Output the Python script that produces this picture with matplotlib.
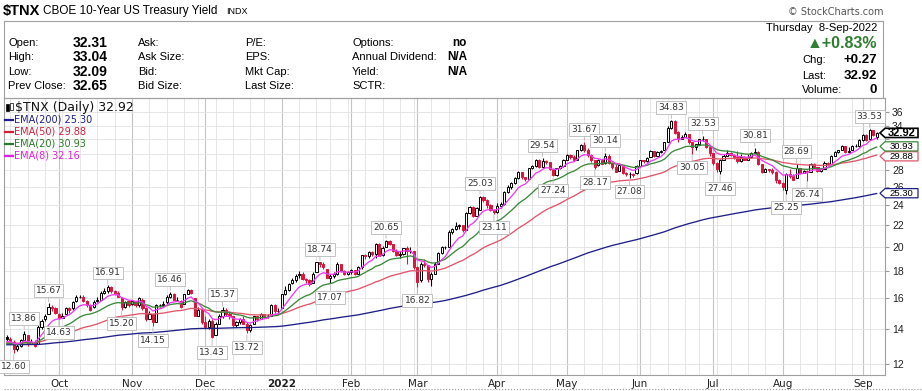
import numpy as np
import pandas as pd
import matplotlib
matplotlib.use("Agg")
import matplotlib.pyplot as plt
from matplotlib import transforms
from matplotlib.patches import Rectangle, Polygon
from matplotlib.lines import Line2D
from matplotlib.ticker import NullLocator

W, H = 922, 391

# ---- data ($TNX daily) ----
start_date, end_date = "2021-09-10", "2022-09-08"
holidays = ["2021-11-25", "2021-12-24", "2022-01-17", "2022-02-21", "2022-04-15",
            "2022-05-30", "2022-06-20", "2022-07-04", "2022-09-05"]

opens = [
    13.5, 13.4, 13.2, 12.8, 13.0, 13.3, 13.6, 13.1, 13.2, 13.1, 14.1, 14.6, 14.9, 15.4, 15.3,  # Sep
    14.9, 14.7, 14.9, 15.3, 15.3, 15.8, 16.1, 16.1, 15.8, 15.5, 15.4, 15.8, 15.9, 16.4, 16.5, 16.8, 16.5, 16.4, 16.0, 15.4, 15.8,  # Oct
    15.6, 15.8, 15.5, 15.9, 15.3, 14.6, 14.9, 14.4, 15.5, 15.5, 15.7, 16.1, 16.3, 15.9, 15.8, 15.6, 16.3, 16.6, 16.0, 14.8, 15.2,  # Nov
    14.4, 14.1, 14.5, 13.6, 14.3, 14.8, 15.2, 14.9, 14.8, 14.2, 14.4, 14.6, 14.3, 13.9, 14.3, 14.8, 14.6, 14.9, 14.8, 14.8, 15.5, 15.1,  # Dec
    15.3, 16.3, 16.6, 17.1, 17.3, 17.7, 17.8, 17.4, 17.3, 17.1, 17.9, 18.7, 18.6, 18.2, 17.5, 17.6, 17.8, 18.6, 18.0, 17.8,  # Jan
    17.9, 18.1, 17.8, 18.3, 19.3, 19.2, 19.6, 19.4, 20.3, 19.3, 20.0, 20.5, 20.3, 19.7, 19.3, 19.4, 19.9, 19.7, 19.7,  # Feb
    18.3, 17.3, 18.6, 18.5, 17.4, 17.8, 18.6, 19.5, 20.0, 20.0, 21.4, 21.6, 21.9, 22.0, 21.5, 23.2, 23.8, 22.9, 23.5, 24.9, 24.6, 24.0, 23.5,  # Mar
    23.3, 23.9, 24.1, 25.4, 26.0, 26.4, 27.0, 27.7, 27.1, 26.9, 28.2, 28.5, 29.3, 28.4, 29.1, 29.0, 28.1, 27.4, 28.2, 28.5,  # Apr
    29.3, 29.9, 29.6, 29.3, 30.5, 31.2, 30.5, 29.9, 29.2, 28.6, 29.3, 28.9, 29.8, 28.9, 28.4, 27.9, 28.6, 27.6, 27.5, 27.5, 27.6,  # May
    28.5, 29.2, 29.1, 29.6, 30.4, 29.8, 30.3, 30.5, 31.7, 33.7, 34.7, 33.0, 32.0, 32.4, 32.8, 31.6, 30.9, 31.3, 32.0, 32.0, 30.9,  # Jun
    30.1, 28.9, 27.9, 29.3, 29.8, 30.2, 29.9, 29.6, 29.1, 29.6, 29.3, 29.6, 30.2, 30.3, 28.7, 27.8, 28.1, 28.0, 27.8, 26.8,  # Jul
    26.5, 25.7, 27.5, 27.3, 27.0, 28.3, 27.6, 27.9, 27.8, 28.8, 28.4, 27.9, 28.1, 28.9, 28.8, 29.8, 30.3, 30.5, 31.1, 30.3, 30.5, 31.1, 31.1,  # Aug
    31.9, 32.6, 32.0, 33.4, 32.31,  # Sep
]
highs = [
    13.6, 13.5, 13.3, 13.1, 13.4, 13.86, 13.6, 13.4, 13.3, 14.2, 14.6, 14.9, 15.67, 15.5, 15.4,
    15.0, 15.0, 15.4, 15.4, 15.8, 16.2, 16.2, 16.2, 15.9, 15.6, 15.9, 16.1, 16.5, 16.7, 16.91, 16.9, 16.6, 16.5, 16.1, 15.8, 15.9,
    15.9, 15.8, 16.1, 16.0, 15.4, 15.1, 14.9, 15.6, 15.6, 15.8, 16.2, 16.46, 16.4, 16.1, 15.9, 16.3, 16.65, 16.65, 16.0, 15.4, 15.2,
    14.8, 14.6, 14.6, 14.4, 14.9, 15.37, 15.3, 15.1, 14.8, 14.5, 14.7, 14.8, 14.4, 14.3, 14.8, 14.8, 15.0, 14.9, 14.9, 15.6, 15.6, 15.3,
    16.3, 16.9, 17.1, 17.5, 17.8, 18.0, 17.9, 17.5, 17.4, 17.9, 18.7, 18.74, 18.7, 18.2, 17.8, 17.9, 18.7, 18.6, 18.1, 18.0,
    18.2, 18.1, 18.4, 19.3, 19.4, 19.7, 19.7, 20.4, 20.4, 20.1, 20.65, 20.6, 20.3, 19.8, 19.7, 19.9, 20.1, 20.0, 19.7,
    18.4, 18.7, 19.0, 18.5, 17.9, 18.7, 19.6, 20.1, 20.1, 21.5, 21.7, 22.3, 22.1, 22.0, 23.3, 23.9, 23.9, 23.8, 25.03, 25.0, 24.7, 24.1, 23.6,
    24.2, 24.3, 25.6, 26.2, 26.6, 27.2, 27.9, 27.8, 27.2, 28.3, 28.6, 29.4, 29.4, 29.54, 29.2, 29.0, 28.2, 28.3, 28.6, 29.4,
    30.0, 30.0, 29.9, 30.6, 31.3, 31.67, 30.8, 30.0, 29.3, 29.4, 29.3, 30.14, 30.0, 29.0, 28.7, 28.6, 28.6, 27.8, 27.7, 27.6, 28.6,
    29.3, 29.3, 29.6, 30.5, 30.4, 30.4, 30.5, 31.7, 33.9, 34.83, 34.8, 33.2, 32.6, 33.0, 32.8, 31.6, 31.4, 32.1, 32.53, 32.1, 30.9,
    30.1, 29.0, 29.4, 30.0, 30.5, 30.3, 30.0, 30.4, 30.0, 29.8, 30.0, 30.3, 30.81, 30.4, 28.8, 28.3, 28.1, 28.2, 27.9, 26.9,
    26.6, 27.6, 28.1, 27.5, 28.69, 28.3, 28.0, 28.0, 28.9, 28.9, 28.4, 28.3, 29.1, 29.0, 29.9, 30.4, 30.6, 31.2, 31.1, 30.9, 31.2, 31.3, 32.0,
    32.8, 32.8, 33.53, 33.4, 33.04,
]
lows = [
    13.2, 13.1, 12.6, 12.7, 12.9, 13.3, 13.0, 13.1, 12.9, 13.1, 14.0, 14.5, 14.9, 15.1, 14.9,
    14.63, 14.7, 14.9, 15.0, 15.2, 15.7, 16.0, 15.7, 15.4, 15.1, 15.3, 15.7, 15.9, 16.3, 16.4, 16.4, 16.2, 16.1, 15.2, 15.3, 15.4,
    15.5, 15.4, 15.4, 15.2, 14.5, 14.6, 14.15, 14.4, 15.4, 15.4, 15.6, 16.0, 15.8, 15.8, 15.3, 15.6, 16.3, 16.3, 14.8, 14.8, 14.3,
    14.0, 14.0, 13.43, 13.6, 14.3, 14.7, 14.8, 14.6, 14.1, 14.1, 14.3, 14.3, 13.72, 13.8, 14.3, 14.5, 14.6, 14.7, 14.7, 14.8, 15.0, 15.0,
    15.3, 16.2, 16.5, 17.0, 17.2, 17.5, 17.3, 17.1, 16.9, 17.1, 17.9, 18.3, 18.2, 17.5, 17.07, 17.5, 17.7, 17.9, 17.7, 17.7,
    17.8, 17.7, 17.8, 18.2, 19.0, 19.1, 19.2, 19.1, 19.2, 19.2, 20.0, 20.2, 19.6, 19.2, 19.1, 19.3, 18.6, 19.5, 18.2,
    16.82, 17.2, 18.3, 17.2, 16.9, 17.8, 18.6, 19.4, 19.8, 20.0, 21.2, 21.5, 21.6, 21.4, 21.5, 23.1, 22.8, 22.9, 23.5, 24.4, 23.7, 23.4, 23.11,
    23.2, 23.7, 24.0, 25.3, 25.8, 26.3, 26.9, 26.9, 26.7, 26.9, 28.1, 28.4, 28.2, 28.3, 28.8, 28.0, 27.24, 27.3, 28.1, 28.4,
    29.2, 29.4, 29.1, 29.2, 30.4, 30.3, 29.6, 29.0, 28.17, 28.5, 28.7, 28.8, 28.8, 28.1, 27.7, 27.9, 27.5, 27.3, 27.08, 27.2, 27.5,
    28.4, 28.9, 29.0, 29.6, 29.6, 29.7, 30.1, 30.5, 31.7, 33.5, 32.7, 31.6, 32.0, 32.3, 31.4, 30.05, 30.6, 31.3, 31.8, 30.8, 29.7,
    28.6, 27.8, 27.46, 29.2, 29.7, 29.7, 29.4, 28.9, 29.0, 29.2, 29.3, 29.5, 30.1, 28.6, 27.6, 27.7, 27.7, 27.5, 26.5, 26.3,
    25.7, 25.25, 27.0, 26.8, 27.0, 27.5, 27.6, 26.74, 27.7, 28.3, 27.7, 27.8, 28.1, 28.6, 28.8, 29.7, 30.2, 30.5, 30.2, 30.2, 30.5, 30.9, 31.0,
    31.8, 31.8, 32.0, 32.5, 32.09,
]
closes = [
    13.4, 13.2, 12.8, 13.0, 13.3, 13.7, 13.1, 13.2, 13.0, 14.1, 14.5, 14.8, 15.4, 15.3, 15.0,
    14.7, 14.8, 15.3, 15.2, 15.7, 16.1, 16.1, 15.8, 15.5, 15.2, 15.7, 15.9, 16.4, 16.5, 16.8, 16.5, 16.4, 16.1, 15.4, 15.7, 15.5,
    15.8, 15.5, 16.0, 15.3, 14.6, 14.9, 14.4, 15.5, 15.5, 15.6, 16.1, 16.3, 15.9, 15.9, 15.4, 16.3, 16.6, 16.4, 14.8, 15.2, 14.4,
    14.1, 14.5, 13.5, 14.3, 14.8, 15.2, 14.9, 14.8, 14.2, 14.4, 14.6, 14.3, 13.9, 14.2, 14.8, 14.6, 14.9, 14.8, 14.8, 15.5, 15.1, 15.1,
    16.3, 16.6, 17.0, 17.3, 17.6, 17.8, 17.4, 17.3, 17.0, 17.8, 18.7, 18.6, 18.3, 17.5, 17.6, 17.8, 18.6, 18.0, 17.8, 17.9,
    18.1, 17.8, 18.3, 19.3, 19.2, 19.6, 19.4, 20.3, 19.2, 19.9, 20.5, 20.3, 19.7, 19.3, 19.4, 19.9, 19.7, 19.7, 18.3,
    17.2, 18.6, 18.5, 17.4, 17.8, 18.6, 19.5, 20.0, 20.0, 21.4, 21.6, 21.9, 22.0, 21.5, 23.2, 23.8, 22.9, 23.7, 24.9, 24.6, 24.0, 23.5, 23.3,
    23.9, 24.1, 25.4, 26.0, 26.4, 27.0, 27.7, 27.1, 26.9, 28.2, 28.5, 29.3, 28.4, 29.1, 29.0, 28.1, 27.4, 28.2, 28.5, 29.3,
    29.9, 29.6, 29.3, 30.5, 31.2, 30.5, 29.9, 29.2, 28.4, 29.3, 28.8, 29.8, 28.9, 28.4, 27.8, 28.6, 27.6, 27.5, 27.5, 27.4, 28.5,
    29.2, 29.1, 29.5, 30.4, 29.8, 30.3, 30.4, 31.6, 33.7, 34.7, 32.9, 32.0, 32.4, 32.8, 31.6, 30.9, 31.3, 32.0, 32.0, 30.9, 30.1,
    28.9, 28.1, 29.3, 29.8, 30.2, 29.9, 29.6, 29.1, 29.6, 29.3, 29.6, 30.2, 30.3, 28.7, 27.8, 28.1, 28.0, 27.8, 26.8, 26.5,
    26.0, 27.5, 27.3, 26.8, 28.3, 27.6, 27.9, 27.8, 28.8, 28.4, 27.9, 28.1, 28.9, 28.8, 29.8, 30.3, 30.5, 31.1, 30.3, 30.4, 31.1, 31.1, 31.9,
    32.6, 31.9, 33.4, 32.65, 32.92,
]

# bars carrying StockCharts' high / low annotations
swing_high_idx = [5, 12, 29, 47, 62, 90, 109, 136, 154, 166, 172, 191, 200, 215, 227, 248]
swing_low_idx = [2, 15, 33, 42, 59, 69, 93, 118, 140, 157, 169, 179, 197, 205, 224, 230]

ema_periods = [200, 50, 20, 8]
ema_seeds = [13.05, 13.15, 13.1, 13.2]         # overlay levels at the left edge
ema_last = ["25.30", "29.88", "30.93", "32.16"]
ema_colors = ["#1f1f8a", "#e0566a", "#3b8a3b", "#ee3cee"]
ema_text_colors = ["#1f1f8a", "#d0203c", "#2a7a2a", "#e020e0"]

y_ticks = [12, 14, 16, 18, 20, 22, 24, 26, 28, 30, 32, 34, 36]
y_tick_labels = ["12", "14", "16", "18", "20", "22", "24", "26", "28", "", "", "34", "36"]  # 30/32 sit under the tags
month_names = {1: "2022", 2: "Feb", 3: "Mar", 4: "Apr", 5: "May", 6: "Jun", 7: "Jul",
               8: "Aug", 9: "Sep", 10: "Oct", 11: "Nov", 12: "Dec"}

quote_left = [("Open:", "32.31"), ("High:", "33.04"), ("Low:", "32.09"), ("Prev Close:", "32.65")]
quote_mid1 = ["Ask:", "Ask Size:", "Bid:", "Bid Size:"]
quote_mid2 = ["P/E:", "EPS:", "Mkt Cap:", "Last Size:"]
quote_right = [("Options:", "no"), ("Annual Dividend:", "N/A"), ("Yield:", "N/A"), ("SCTR:", "")]
last_close = "32.92"

RED = "#dc143c"
GRID = "#e2e2e2"
FRAME = "#a0a0a0"
HDR_FONT = "Liberation Sans"


def fx(px):
    return px / W


def fy(py):
    return 1 - py / H


dates = pd.bdate_range(start_date, end_date, freq="C", holidays=holidays)
n = len(dates)
assert n == len(opens) == len(highs) == len(lows) == len(closes)

fig = plt.figure(figsize=(W / 100, H / 100), dpi=100)
fig.patch.set_facecolor("white")

# ---- header ----
fig.text(fx(3), fy(11), "$TNX", fontsize=10.5, fontweight="bold", family=HDR_FONT, va="center")
fig.text(fx(43), fy(11), "CBOE 10-Year US Treasury Yield", fontsize=8.5, family=HDR_FONT, va="center")
fig.text(fx(226), fy(11.5), "INDX", fontsize=6.5, family=HDR_FONT, va="center")
fig.text(fx(883), fy(12), "\u00a9 StockCharts.com", fontsize=7, color="#555555", ha="right", va="center")
fig.add_artist(Rectangle((fx(4), fy(98)), fx(883) - fx(4), fy(21) - fy(98), transform=fig.transFigure,
                         fill=False, ec=FRAME, lw=0.8))

row_y = [43, 57, 72, 86]
for y, (lab, val), m1, m2, (lab2, val2) in zip(row_y, quote_left, quote_mid1, quote_mid2, quote_right):
    fig.text(fx(8), fy(y), lab, fontsize=8, family=HDR_FONT, va="center")
    fig.text(fx(73), fy(y), val, fontsize=10, fontweight="bold", family=HDR_FONT, va="center")
    fig.text(fx(138), fy(y), m1, fontsize=8, family=HDR_FONT, va="center")
    fig.text(fx(245), fy(y), m2, fontsize=8, family=HDR_FONT, va="center")
    fig.text(fx(352), fy(y), lab2, fontsize=8, family=HDR_FONT, va="center")
    fig.text(fx(467), fy(y), val2, fontsize=8.5, fontweight="bold", family=HDR_FONT, va="center", ha="right")

fig.text(fx(877), fy(28), "Thursday  8-Sep-2022", fontsize=8, family=HDR_FONT, va="center", ha="right")
fig.text(fx(877), fy(44), "\u25b2+0.83%", fontsize=11.5, fontweight="bold", color="#2f7f2f",
         family=[HDR_FONT, "DejaVu Sans"], va="center", ha="right")
for y, lab, val in [(60, "Chg:", "+0.27"), (76, "Last:", last_close), (90, "Volume:", "0")]:
    fig.text(fx(802), fy(y), lab, fontsize=8, family=HDR_FONT, va="center")
    fig.text(fx(877), fy(y), val, fontsize=9.5, fontweight="bold", family=HDR_FONT, va="center", ha="right")

# ---- price panel ----
ax = fig.add_axes([fx(4), fy(375), fx(885) - fx(4), fy(98) - fy(375)])
ax.set_yscale("log")
ax.set_ylim(11.44, 38.34)
ax.set_xlim(-0.8, 252.4)
for s in ax.spines.values():
    s.set_color(FRAME)
    s.set_linewidth(0.8)

x = np.arange(n)
month_start = [i for i in range(1, n) if dates[i].month != dates[i - 1].month]
week_start = [i for i in range(1, n) if dates[i].weekday() < dates[i - 1].weekday()
              and i not in month_start]
for i in week_start:
    ax.axvline(i, color=GRID, lw=0.6, zorder=0)
for i in month_start:
    ax.axvline(i, color="#c4c4c4", lw=0.8, zorder=0)

ax.yaxis.tick_right()
ax.set_yticks(y_ticks)
ax.set_yticklabels(y_tick_labels)
ax.yaxis.set_minor_locator(NullLocator())
ax.grid(axis="y", color=GRID, lw=0.6, zorder=0)
ax.tick_params(axis="y", labelsize=7.5, length=3, color="#999999", pad=2, labelcolor="#222222")
for t in ax.get_yticklabels():
    t.set_family(HDR_FONT)

ax.set_xticks(month_start)
ax.set_xticklabels([month_names[dates[i].month] for i in month_start])
ax.tick_params(axis="x", labelsize=7.5, length=0, pad=3, labelcolor="#222222")
for i, t in zip(month_start, ax.get_xticklabels()):
    if dates[i].month == 1:
        t.set_fontweight("bold")

# candles: hollow when close > open, red when close < previous close
o, h, l, c = (np.asarray(v, dtype=float) for v in (opens, highs, lows, closes))
prev = np.r_[c[0], c[:-1]]
edge = np.where(c >= prev, "black", RED)
face = np.where(c > o, "white", edge)
lo_b, hi_b = np.minimum(o, c), np.maximum(o, c)
ax.vlines(x, l, h, colors=edge, lw=0.8, zorder=2)
ax.bar(x, hi_b - lo_b, bottom=lo_b, width=0.62, color=face, edgecolor=edge, lw=0.7, zorder=3)

for period, seed, col in zip(ema_periods, ema_seeds, ema_colors):
    ema = pd.Series([seed] + closes).ewm(span=period, adjust=False).mean().iloc[1:].to_numpy()
    ax.plot(x, ema, color=col, lw=0.95, zorder=4)

box = dict(boxstyle="square,pad=0.22", fc="white", ec="#b8b8b8", lw=0.6)
arr = dict(arrowstyle="-", color="#b8b8b8", lw=0.6, shrinkA=0, shrinkB=1)
for i in swing_high_idx:
    ax.annotate(f"{highs[i]:.2f}", xy=(i, highs[i]), xytext=(0, 9), textcoords="offset points",
                ha="center", va="center", fontsize=6.5, color="#333333", bbox=box, arrowprops=arr, zorder=6)
for i in swing_low_idx:
    ax.annotate(f"{lows[i]:.2f}", xy=(i, lows[i]), xytext=(0, -10), textcoords="offset points",
                ha="center", va="center", fontsize=6.5, color="#333333", bbox=box, arrowprops=arr, zorder=6)


# value tags on the right edge (dy nudges stacked tags apart, in inches)
def tag(val, text, color, bold=False, dy=0.0):
    tr = fig.dpi_scale_trans + transforms.ScaledTranslation(252.4, val, ax.transData)
    hh = 0.046
    poly = Polygon([(-0.05, dy), (0.0, dy + hh), (0.33, dy + hh), (0.33, dy - hh), (0.0, dy - hh)],
                   closed=True, transform=tr, fc="white", ec=color, lw=1.2 if bold else 0.9,
                   clip_on=False, zorder=8)
    ax.add_patch(poly)
    ax.text(0.165, dy - 0.002, text, transform=tr, ha="center", va="center",
            fontsize=8 if bold else 6.8, fontweight="bold" if bold else "normal",
            color="black", family=HDR_FONT, clip_on=False, zorder=9)


tag(float(ema_last[0]), ema_last[0], ema_colors[0])
tag(float(ema_last[1]), ema_last[1], ema_colors[1], dy=-0.012)
tag(float(ema_last[2]), ema_last[2], ema_colors[2], dy=0.008)
tag(float(last_close), last_close, "black", bold=True)

# legend block
fig.add_artist(Rectangle((fx(6), fy(111)), fx(2.5) - fx(0), fy(104) - fy(111), transform=fig.transFigure,
                         fc="black", ec="black", lw=0.5))
fig.add_artist(Rectangle((fx(10), fy(110)), fx(2.5) - fx(0), fy(103) - fy(110), transform=fig.transFigure,
                         fc="white", ec="black", lw=0.5))
fig.text(fx(15), fy(107), f"$TNX (Daily) {last_close}", fontsize=9, va="center", color="#111111")
for k, (period, val, col) in enumerate(zip(ema_periods, ema_last, ema_text_colors)):
    y = 120 + 12 * k
    fig.add_artist(Line2D([fx(5), fx(13)], [fy(y), fy(y)], color=col, lw=1.6))
    fig.text(fx(14), fy(y), f"EMA({period}) {val}", fontsize=7, color=col, va="center")

fig.add_artist(Line2D([fx(4), fx(922)], [fy(388.5), fy(388.5)], ls=":", color="#999999", lw=0.8))

fig.savefig("out.png", dpi=100)
